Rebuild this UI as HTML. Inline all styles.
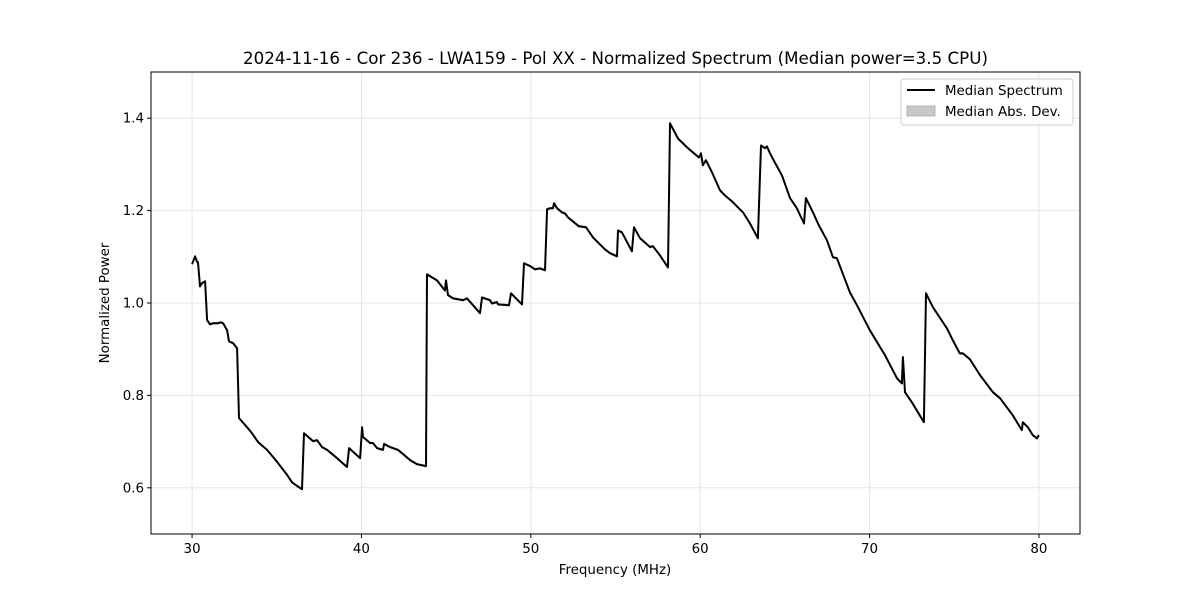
<!DOCTYPE html>
<html><head><meta charset="utf-8"><style>
body{margin:0;background:#fff;}
svg{display:block;font-family:"DejaVu Sans","Liberation Sans",sans-serif;}
</style></head><body>
<svg id="chart" width="1200" height="600" viewBox="0 0 1200 600" xmlns="http://www.w3.org/2000/svg">
<rect width="1200" height="600" fill="#fff"/>
<text x="615.5" y="64" font-size="16.7" text-anchor="middle">2024-11-16 - Cor 236 - LWA159 - Pol XX - Normalized Spectrum (Median power=3.5 CPU)</text>
<g id="grid"></g>
<g id="ticks"></g>
<path id="mad" fill="#c8c8c8" stroke="none"/>
<path id="line" fill="none" stroke="#000" stroke-width="2" stroke-linejoin="round"/>
<rect x="151" y="72" width="929" height="462" fill="none" stroke="#000" stroke-width="1"/>
<text x="615" y="574" font-size="13.4" text-anchor="middle">Frequency (MHz)</text>
<text transform="translate(109,303) rotate(-90)" font-size="13.4" text-anchor="middle">Normalized Power</text>
<g>
<rect x="901" y="79" width="172" height="46" rx="3" fill="#fff" fill-opacity="0.8" stroke="#ccc"/>
<line x1="907" y1="90" x2="935" y2="90" stroke="#000" stroke-width="2"/>
<text x="945" y="95" font-size="13.4">Median Spectrum</text>
<rect x="907" y="106" width="28" height="10" fill="#c8c8c8" stroke="#aaa" stroke-width="0.8"/>
<text x="945" y="116" font-size="13.4">Median Abs. Dev.</text>
</g>
</svg>
<script>
const freqs=[30.00,30.18,30.30,30.35,30.47,30.59,30.77,30.89,31.06,31.24,31.48,31.71,31.83,32.07,32.18,32.42,32.66,32.77,33.25,33.54,33.90,34.43,35.02,35.61,35.90,36.20,36.49,36.61,37.14,37.38,37.67,37.97,38.56,39.15,39.27,39.92,40.04,40.09,40.51,40.68,40.92,41.27,41.33,41.69,42.16,42.46,42.87,43.28,43.81,43.87,44.46,44.93,44.99,45.11,45.41,46.00,46.23,46.59,47.00,47.12,47.59,47.71,48.00,48.06,48.71,48.83,49.48,49.60,49.95,50.25,50.54,50.84,50.96,51.13,51.31,51.37,51.55,51.84,52.02,52.20,52.84,53.26,53.67,54.38,54.67,55.09,55.15,55.38,55.97,56.09,56.45,57.04,57.21,57.63,58.10,58.22,58.69,59.22,59.57,59.93,60.05,60.16,60.34,60.70,61.17,61.46,61.94,62.23,62.53,62.94,63.41,63.59,63.82,63.94,64.12,64.41,64.83,65.30,65.71,66.13,66.24,66.66,67.01,67.48,67.84,68.07,68.84,69.26,70.02,70.73,70.91,71.62,71.91,71.97,72.09,72.50,73.21,73.33,73.74,74.57,74.92,75.33,75.51,75.93,76.52,77.28,77.70,78.46,78.99,79.05,79.35,79.64,79.88,80.00];
const power=[1.084,1.101,1.088,1.088,1.036,1.043,1.047,0.963,0.954,0.956,0.956,0.958,0.956,0.941,0.917,0.913,0.902,0.751,0.731,0.718,0.699,0.682,0.656,0.628,0.612,0.604,0.597,0.718,0.701,0.703,0.688,0.682,0.664,0.645,0.686,0.664,0.731,0.710,0.697,0.697,0.686,0.682,0.695,0.688,0.682,0.673,0.660,0.651,0.647,1.062,1.049,1.027,1.049,1.017,1.010,1.006,1.010,0.995,0.978,1.012,1.006,0.999,1.002,0.997,0.995,1.021,0.997,1.086,1.080,1.073,1.075,1.071,1.203,1.205,1.205,1.216,1.205,1.196,1.194,1.185,1.166,1.164,1.142,1.116,1.108,1.101,1.157,1.153,1.112,1.164,1.140,1.121,1.123,1.103,1.077,1.389,1.356,1.337,1.326,1.315,1.324,1.298,1.309,1.283,1.244,1.233,1.218,1.207,1.196,1.172,1.140,1.341,1.335,1.339,1.324,1.304,1.276,1.227,1.205,1.172,1.227,1.196,1.168,1.136,1.099,1.097,1.023,0.995,0.941,0.898,0.887,0.837,0.826,0.883,0.807,0.785,0.742,1.021,0.991,0.945,0.919,0.891,0.891,0.878,0.844,0.807,0.794,0.757,0.725,0.742,0.731,0.714,0.707,0.714];
const madWidth=0.003;
const xTicks=[30,40,50,60,70,80];
const yTicks=[0.6,0.8,1.0,1.2,1.4];
const X0=151,X1=1080,Y0=72,Y1=534,XMIN=27.575,XMAX=82.425,YMIN=0.5,YMAX=1.5;
function sx(f){return X0+(f-XMIN)/(XMAX-XMIN)*(X1-X0);}
function sy(v){return Y1-(v-YMIN)/(YMAX-YMIN)*(Y1-Y0);}
const NS='http://www.w3.org/2000/svg';
const grid=document.getElementById('grid'),ticks=document.getElementById('ticks');
xTicks.forEach(t=>{
  const x=sx(t);
  const g=document.createElementNS(NS,'line');
  
  
  g.setAttribute('x1',x);g.setAttribute('x2',x);g.setAttribute('y1',Y0);g.setAttribute('y2',Y1);
  g.setAttribute('stroke','#e5e5e5');grid.appendChild(g);
  const tk=document.createElementNS(NS,'line');
  
  
  tk.setAttribute('x1',x);tk.setAttribute('x2',x);tk.setAttribute('y1',Y1);tk.setAttribute('y2',Y1+4);
  tk.setAttribute('stroke','#000');ticks.appendChild(tk);
  const tx=document.createElementNS(NS,'text');
  
  
  tx.setAttribute('x',x);tx.setAttribute('y',Y1+19);tx.setAttribute('font-size','13.4');tx.setAttribute('text-anchor','middle');
  tx.textContent=t;ticks.appendChild(tx);
});
yTicks.forEach(t=>{
  const y=sy(t);
  const g=document.createElementNS(NS,'line');
  
  
  g.setAttribute('x1',X0);g.setAttribute('x2',X1);g.setAttribute('y1',y);g.setAttribute('y2',y);
  g.setAttribute('stroke','#e5e5e5');grid.appendChild(g);
  const tk=document.createElementNS(NS,'line');
  
  
  tk.setAttribute('x1',X0-4);tk.setAttribute('x2',X0);tk.setAttribute('y1',y);tk.setAttribute('y2',y);
  tk.setAttribute('stroke','#000');ticks.appendChild(tk);
  const tx=document.createElementNS(NS,'text');
  
  
  tx.setAttribute('x',X0-7);tx.setAttribute('y',y+4.5);tx.setAttribute('font-size','13.4');tx.setAttribute('text-anchor','end');
  tx.textContent=t.toFixed(1);ticks.appendChild(tx);
});
let d='';freqs.forEach((f,i)=>{d+=(i?'L':'M')+sx(f).toFixed(1)+','+sy(power[i]).toFixed(1);});
document.getElementById('line').setAttribute('d',d);
let up='',dn='';
freqs.forEach((f,i)=>{up+=(i?'L':'M')+sx(f).toFixed(1)+','+sy(power[i]+madWidth).toFixed(1);});
for(let i=freqs.length-1;i>=0;i--){dn+='L'+sx(freqs[i]).toFixed(1)+','+sy(power[i]-madWidth).toFixed(1);}
document.getElementById('mad').setAttribute('d',up+dn+'Z');
</script>
</body></html>
